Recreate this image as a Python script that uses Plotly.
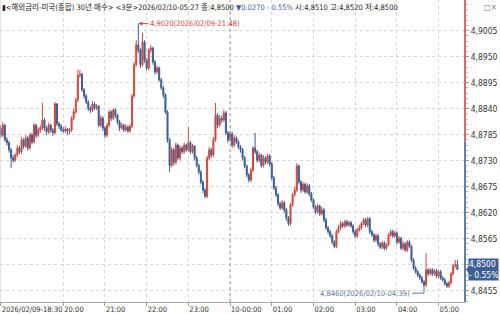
import pandas as pd
import plotly.graph_objects as go

# ---------------- data ----------------
start_time = "2026-02-09 18:30"
bar_minutes = 3

opens = [
4.8799,4.8784,4.8805,4.8774,4.8768,4.8753,4.8736,4.8731,4.8742,4.8757,
4.8749,4.8774,4.8761,4.8778,4.8757,4.8784,4.8770,4.8805,4.8784,4.8795,
4.8799,4.8816,4.8799,4.8791,4.8805,4.8795,4.8789,4.8850,4.8808,4.8803,
4.8795,4.8793,4.8797,4.8793,4.8795,4.8820,4.8833,4.8858,4.8911,4.8913,
4.8880,4.8867,4.8854,4.8841,4.8837,4.8850,4.8841,4.8845,4.8805,4.8820,
4.8799,4.8784,4.8805,4.8833,4.8820,4.8837,4.8826,4.8812,4.8799,4.8805,
4.8795,4.8801,4.8793,4.8803,4.8867,4.8933,4.8975,4.8964,4.8933,4.8981,
4.8943,4.8926,4.8964,4.8968,4.8939,4.8918,4.8926,4.8901,4.8884,4.8869,
4.8833,4.8774,4.8720,4.8753,4.8727,4.8763,4.8736,4.8757,4.8749,4.8763,
4.8753,4.8768,4.8749,4.8761,4.8736,4.8720,4.8706,4.8685,4.8668,4.8655,
4.8736,4.8753,4.8742,4.8774,4.8826,4.8805,4.8820,4.8816,4.8831,4.8789,
4.8774,4.8787,4.8763,4.8778,4.8770,4.8759,4.8753,4.8736,4.8719,4.8700,
4.8689,4.8710,4.8757,4.8749,4.8731,4.8742,4.8720,4.8736,4.8727,4.8740,
4.8723,4.8694,4.8672,4.8658,4.8639,4.8630,4.8641,4.8626,4.8609,4.8597,
4.8637,4.8658,4.8668,4.8719,4.8685,4.8668,4.8680,4.8664,4.8677,4.8660,
4.8647,4.8632,4.8622,4.8634,4.8618,4.8626,4.8605,4.8588,4.8580,4.8571,
4.8558,4.8549,4.8580,4.8588,4.8597,4.8592,4.8601,4.8594,4.8599,4.8592,
4.8580,4.8571,4.8584,4.8588,4.8597,4.8605,4.8594,4.8607,4.8580,4.8573,
4.8562,4.8571,4.8554,4.8547,4.8556,4.8545,4.8552,4.8573,4.8580,4.8571,
4.8577,4.8558,4.8566,4.8545,4.8554,4.8541,4.8558,4.8549,4.8520,4.8503,
4.8495,4.8488,4.8482,4.8474,4.8467,4.8499,4.8491,4.8499,4.8491,4.8497,
4.8486,4.8495,4.8482,4.8478,4.8470,4.8465,4.8472,4.8491,4.8508,4.8510]

highs = [
4.8805,4.8812,4.8808,4.8780,4.8772,4.8757,4.8742,4.8746,4.8763,4.8761,
4.8780,4.8778,4.8784,4.8782,4.8789,4.8789,4.8810,4.8808,4.8801,4.8805,
4.8852,4.8820,4.8803,4.8810,4.8808,4.8799,4.8854,4.8852,4.8812,4.8808,
4.8801,4.8803,4.8799,4.8799,4.8824,4.8839,4.8863,4.8922,4.8922,4.8916,
4.8884,4.8871,4.8858,4.8845,4.8856,4.8854,4.8850,4.8848,4.8826,4.8824,
4.8803,4.8810,4.8837,4.8837,4.8841,4.8841,4.8829,4.8816,4.8810,4.8808,
4.8807,4.8805,4.8807,4.8871,4.8939,4.8985,4.9020,4.8968,4.9000,4.8985,
4.8947,4.8968,4.8975,4.8971,4.8943,4.8931,4.8929,4.8905,4.8888,4.8873,
4.8837,4.8778,4.8759,4.8757,4.8768,4.8766,4.8763,4.8761,4.8768,4.8766,
4.8801,4.8772,4.8766,4.8763,4.8740,4.8724,4.8710,4.8689,4.8672,4.8740,
4.8759,4.8757,4.8780,4.8852,4.8831,4.8826,4.8826,4.8837,4.8835,4.8793,
4.8793,4.8791,4.8784,4.8782,4.8774,4.8763,4.8757,4.8740,4.8722,4.8704,
4.8716,4.8761,4.8789,4.8753,4.8747,4.8745,4.8742,4.8740,4.8745,4.8744,
4.8727,4.8698,4.8677,4.8662,4.8643,4.8647,4.8645,4.8630,4.8613,4.8641,
4.8662,4.8675,4.8725,4.8722,4.8689,4.8685,4.8684,4.8682,4.8681,4.8664,
4.8651,4.8636,4.8639,4.8637,4.8632,4.8630,4.8609,4.8592,4.8584,4.8575,
4.8562,4.8584,4.8594,4.8603,4.8601,4.8605,4.8605,4.8603,4.8603,4.8596,
4.8584,4.8588,4.8594,4.8601,4.8609,4.8609,4.8611,4.8611,4.8584,4.8577,
4.8575,4.8575,4.8558,4.8560,4.8560,4.8556,4.8577,4.8584,4.8584,4.8582,
4.8580,4.8571,4.8569,4.8560,4.8558,4.8562,4.8562,4.8552,4.8524,4.8507,
4.8499,4.8492,4.8486,4.8478,4.8535,4.8503,4.8503,4.8503,4.8501,4.8501,
4.8499,4.8499,4.8486,4.8482,4.8474,4.8476,4.8495,4.8512,4.8520,4.8520]

lows = [
4.8778,4.8780,4.8770,4.8762,4.8747,4.8715,4.8726,4.8728,4.8738,4.8744,
4.8745,4.8755,4.8757,4.8751,4.8753,4.8764,4.8766,4.8778,4.8780,4.8789,
4.8795,4.8793,4.8784,4.8787,4.8789,4.8782,4.8786,4.8803,4.8797,4.8791,
4.8789,4.8789,4.8784,4.8786,4.8791,4.8816,4.8829,4.8854,4.8905,4.8876,
4.8861,4.8850,4.8835,4.8831,4.8833,4.8837,4.8837,4.8801,4.8801,4.8793,
4.8778,4.8780,4.8801,4.8814,4.8816,4.8820,4.8807,4.8793,4.8795,4.8791,
4.8791,4.8789,4.8789,4.8799,4.8863,4.8929,4.8958,4.8926,4.8929,4.8937,
4.8920,4.8922,4.8958,4.8933,4.8912,4.8914,4.8897,4.8880,4.8863,4.8829,
4.8768,4.8706,4.8716,4.8720,4.8722,4.8731,4.8731,4.8744,4.8745,4.8749,
4.8749,4.8744,4.8745,4.8731,4.8716,4.8701,4.8680,4.8662,4.8651,4.8651,
4.8731,4.8736,4.8738,4.8770,4.8799,4.8801,4.8810,4.8812,4.8784,4.8768,
4.8770,4.8757,4.8759,4.8766,4.8755,4.8747,4.8731,4.8714,4.8695,4.8684,
4.8685,4.8706,4.8744,4.8726,4.8727,4.8715,4.8716,4.8722,4.8723,4.8718,
4.8689,4.8668,4.8653,4.8634,4.8626,4.8626,4.8620,4.8603,4.8592,4.8593,
4.8633,4.8654,4.8664,4.8680,4.8662,4.8664,4.8660,4.8660,4.8655,4.8643,
4.8628,4.8617,4.8618,4.8613,4.8614,4.8600,4.8584,4.8575,4.8567,4.8553,
4.8545,4.8545,4.8576,4.8584,4.8588,4.8588,4.8590,4.8590,4.8588,4.8575,
4.8567,4.8567,4.8580,4.8584,4.8594,4.8590,4.8590,4.8575,4.8569,4.8558,
4.8558,4.8549,4.8543,4.8543,4.8541,4.8541,4.8549,4.8569,4.8567,4.8567,
4.8553,4.8554,4.8541,4.8541,4.8537,4.8537,4.8545,4.8516,4.8499,4.8491,
4.8484,4.8478,4.8470,4.8460,4.8463,4.8486,4.8487,4.8486,4.8487,4.8482,
4.8482,4.8478,4.8474,4.8466,4.8461,4.8461,4.8468,4.8487,4.8503,4.8500]

closes = [
4.8784,4.8805,4.8774,4.8768,4.8753,4.8736,4.8731,4.8742,4.8757,4.8749,
4.8774,4.8761,4.8778,4.8757,4.8784,4.8770,4.8805,4.8784,4.8795,4.8799,
4.8816,4.8799,4.8791,4.8805,4.8795,4.8789,4.8850,4.8808,4.8803,4.8795,
4.8793,4.8797,4.8793,4.8795,4.8820,4.8833,4.8858,4.8911,4.8913,4.8880,
4.8867,4.8854,4.8841,4.8837,4.8850,4.8841,4.8845,4.8805,4.8820,4.8799,
4.8784,4.8805,4.8833,4.8820,4.8837,4.8826,4.8812,4.8799,4.8805,4.8795,
4.8801,4.8793,4.8803,4.8867,4.8933,4.8975,4.8964,4.8933,4.8981,4.8943,
4.8926,4.8964,4.8968,4.8939,4.8918,4.8926,4.8901,4.8884,4.8869,4.8833,
4.8774,4.8720,4.8753,4.8727,4.8763,4.8736,4.8757,4.8749,4.8763,4.8753,
4.8768,4.8749,4.8761,4.8736,4.8720,4.8706,4.8685,4.8668,4.8655,4.8736,
4.8753,4.8742,4.8774,4.8826,4.8805,4.8820,4.8816,4.8831,4.8789,4.8774,
4.8787,4.8763,4.8778,4.8770,4.8759,4.8753,4.8736,4.8719,4.8700,4.8689,
4.8710,4.8757,4.8749,4.8731,4.8742,4.8720,4.8736,4.8727,4.8740,4.8723,
4.8694,4.8672,4.8658,4.8639,4.8630,4.8641,4.8626,4.8609,4.8597,4.8637,
4.8658,4.8668,4.8719,4.8685,4.8668,4.8680,4.8664,4.8677,4.8660,4.8647,
4.8632,4.8622,4.8634,4.8618,4.8626,4.8605,4.8588,4.8580,4.8571,4.8558,
4.8549,4.8580,4.8588,4.8597,4.8592,4.8601,4.8594,4.8599,4.8592,4.8580,
4.8571,4.8584,4.8588,4.8597,4.8605,4.8594,4.8607,4.8580,4.8573,4.8562,
4.8571,4.8554,4.8547,4.8556,4.8545,4.8552,4.8573,4.8580,4.8571,4.8577,
4.8558,4.8566,4.8545,4.8554,4.8541,4.8558,4.8549,4.8520,4.8503,4.8495,
4.8488,4.8482,4.8474,4.8467,4.8499,4.8491,4.8499,4.8491,4.8497,4.8486,
4.8495,4.8482,4.8478,4.8470,4.8465,4.8472,4.8491,4.8508,4.8510,4.8500]

prev_close = 4.8770
y_tickvals = [4.8455, 4.8510, 4.8565, 4.8620, 4.8675, 4.8730, 4.8785,
              4.8840, 4.8895, 4.8950, 4.9005]
y_ticktext = ["4,8455", "", "4,8565", "4,8620", "4,8675", "4,8730", "4,8785",
              "4,8840", "4,8895", "4,8950", "4,9005"]
x_tickvals = ["2026-02-09 18:30", "2026-02-09 20:00", "2026-02-09 21:00",
              "2026-02-09 22:00", "2026-02-09 23:00", "2026-02-10 00:00",
              "2026-02-10 01:00", "2026-02-10 02:00", "2026-02-10 03:00",
              "2026-02-10 04:00", "2026-02-10 05:00"]
x_ticktext = ["2026/02/09-18:30", "20:00", "21:00", "22:00", "23:00",
              "10-00:00", "01:00", "02:00", "03:00", "04:00", "05:00"]
x_range = ["2026-02-09 18:29", "2026-02-10 05:38"]
y_range = [4.84312, 4.90699]

high_label = "4,9020(2026/02/09-21:48)"
high_time, high_val = "2026-02-09 21:48", 4.9020
low_label = "4,8460(2026/02/10-04:39)"
low_time, low_val = "2026-02-10 04:39", 4.8460
low_text_time, low_text_val = "2026-02-10 04:22", 4.8450

header_black1 = "▮<해외금리-미국(종합) 30년 매수> <3분>2026/02/10-05:27 종:4,8500 "
header_blue = "▼0.0270 - 0.55%"
header_black2 = " 시:4,8510 고:4,8520 저:4,8500"
last_label = "4,8500<br>- 0.55%"
last_val = 4.8500

# ---------------- styles ----------------
RED = "#d2473c"
BLUE = "#3a5e98"
GRID = "#d8d8d8"
NARROW = "DejaVu Sans Condensed, Noto Sans CJK KR, sans-serif"

times = pd.date_range(start_time, periods=len(closes), freq=f"{bar_minutes}min")

fig = go.Figure(go.Candlestick(
    x=times, open=opens, high=highs, low=lows, close=closes,
    increasing=dict(line=dict(color=RED, width=1), fillcolor=RED),
    decreasing=dict(line=dict(color=BLUE, width=1), fillcolor=BLUE),
    whiskerwidth=0, hoverinfo="skip", showlegend=False,
))

fig.update_layout(
    width=500, height=314,
    margin=dict(l=0, r=35, t=0, b=12),
    paper_bgcolor="white", plot_bgcolor="white",
    separators=",.",
    font=dict(family=NARROW, size=9, color="#333"),
    showlegend=False,
    xaxis=dict(
        type="date", range=x_range, rangeslider=dict(visible=False),
        tickvals=x_tickvals, ticktext=x_ticktext,
        ticklabelposition="outside right",
        ticks="outside", ticklen=3, tickcolor="#999",
        showgrid=True, gridcolor=GRID, griddash="dot", gridwidth=1,
        showline=True, linecolor="#aaa", linewidth=1,
        tickfont=dict(size=7.5, color="#333", family=NARROW),
        zeroline=False,
    ),
    yaxis=dict(
        side="right", range=y_range, tickvals=y_tickvals, ticktext=y_ticktext,
        ticks="outside", ticklen=3, tickcolor="#999",
        minor=dict(dtick=0.0011, tick0=4.8455, ticks="outside", ticklen=2,
                   tickcolor="#bbb", showgrid=False),
        showgrid=True, gridcolor=GRID, griddash="dot", gridwidth=1,
        showline=False, zeroline=False,
        tickfont=dict(size=8.5, color="#333", family=NARROW),
    ),
)

shapes = [
    dict(type="line", xref="paper", yref="paper", x0=0, x1=0, y0=0, y1=1,
         line=dict(color="#c8c8c8", width=1)),
    dict(type="line", xref="x", yref="paper", x0="2026-02-10 00:00", x1="2026-02-10 00:00",
         y0=0, y1=1, line=dict(color="#9a9a9a", width=1, dash="dot")),
    dict(type="line", xref="paper", yref="y", x0=1, x1=1, y0=prev_close, y1=y_range[1],
         line=dict(color=RED, width=1.6)),
    dict(type="line", xref="paper", yref="y", x0=1, x1=1, y0=y_range[0], y1=prev_close,
         line=dict(color=BLUE, width=1.6)),
    dict(type="line", xref="x", yref="y", x0=low_text_time, x1=low_time,
         y0=low_text_val, y1=low_text_val, line=dict(color="#5a76a6", width=1)),
    dict(type="line", xref="x", yref="y", x0=low_time, x1=low_time,
         y0=low_text_val, y1=low_val, line=dict(color="#5a76a6", width=1)),
    dict(type="path", xref="paper", yref="y", xsizemode="pixel", ysizemode="pixel",
         xanchor=1, yanchor=last_val, path="M1,0 L4,-4 L4,4 Z",
         fillcolor="#3d5f94", line=dict(width=0)),
]
fig.update_layout(shapes=shapes)

annotations = [
    dict(xref="paper", yref="paper", x=0, y=1, xanchor="left", yanchor="top",
         yshift=0, showarrow=False, align="left",
         text=header_black1 + f"<span style='color:{BLUE}'>{header_blue}</span>" + header_black2,
         font=dict(size=7.5, color="#222", family=NARROW), bgcolor="rgba(255,255,255,0)"),
    dict(xref="paper", yref="paper", x=1, y=1, xanchor="right", yanchor="top",
         xshift=34, yshift=-1, showarrow=False, text="□×",
         font=dict(size=8, color="#777")),
    dict(xref="x", yref="y", x=high_time, y=high_val, ax=10, ay=0,
         showarrow=True, arrowhead=2, arrowsize=0.8, arrowwidth=1, arrowcolor=RED,
         text=high_label, xanchor="left", yanchor="middle",
         font=dict(size=7.5, color=RED, family=NARROW)),
    dict(xref="x", yref="y", x=low_text_time, y=low_text_val, xanchor="right",
         yanchor="middle", showarrow=False, text=low_label,
         font=dict(size=7.5, color="#5a76a6", family=NARROW)),
    dict(xref="paper", yref="y", x=1, y=last_val, xanchor="left", yanchor="middle",
         xshift=3, showarrow=False, text=last_label, align="left",
         bgcolor="#3d5f94", borderpad=0,
         font=dict(size=8.5, color="white", family=NARROW)),
]
fig.update_layout(annotations=annotations)

fig.write_html("out.html")
